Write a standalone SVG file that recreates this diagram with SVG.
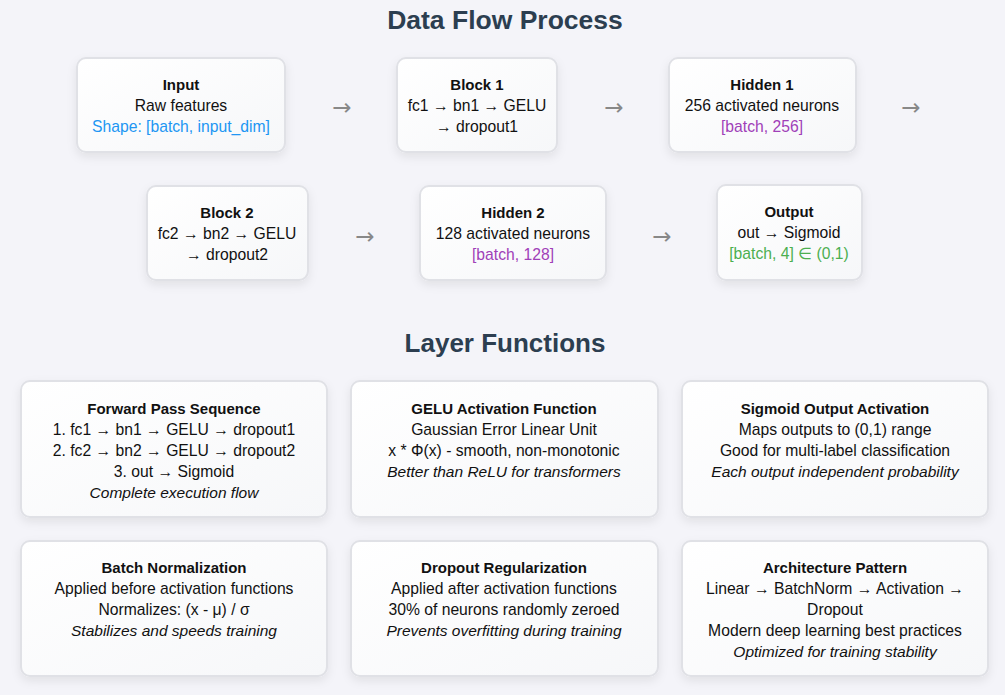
<svg xmlns="http://www.w3.org/2000/svg" width="1005" height="695" viewBox="0 0 1005 695">
<defs>
<linearGradient id="g" x1="0" y1="0" x2="1" y2="1">
<stop offset="0" stop-color="#ffffff"/>
<stop offset="1" stop-color="#f6f7f9"/>
</linearGradient>
<filter id="sh" x="-20%" y="-20%" width="140%" height="150%">
<feDropShadow dx="0" dy="4" stdDeviation="5" flood-color="#000" flood-opacity="0.08"/>
</filter>
</defs>
<style>
text{font-family:"Liberation Sans",Arial,sans-serif;font-size:15.7px;fill:#111;text-anchor:middle}
.h{font-size:26.5px;font-weight:bold;fill:#2c3e50}
.b{font-weight:bold;font-size:15px}
.i{font-style:italic;font-size:15.5px}
.box{fill:url(#g);stroke:#e0e1e6;stroke-width:2;filter:url(#sh)}
.arr{font-family:"DejaVu Sans",sans-serif;font-size:23px;fill:#888}
.blue{fill:#2196f3}
.pur{fill:#a040b8}
.grn{fill:#4caf50}
</style>
<rect width="1005" height="695" fill="#f4f4f9"/>
<text class="h" x="505" y="29">Data Flow Process</text>
<text class="h" x="505" y="352" style="font-size:26px">Layer Functions</text>

<g id="input"><rect class="box" x="77" y="58" width="208" height="94" rx="9"/>
<text class="b" x="181" y="90">Input</text><text x="181" y="111">Raw features</text><text class="blue" x="181" y="132">Shape: [batch, input_dim]</text></g>
<g id="block1"><rect class="box" x="397" y="58" width="160" height="94" rx="9"/>
<text class="b" x="477" y="90">Block 1</text><text x="477" y="111">fc1 → bn1 → GELU</text><text x="477" y="132">→ dropout1</text></g>
<g id="hidden1"><rect class="box" x="669" y="58" width="187" height="94" rx="9"/>
<text class="b" x="762" y="90">Hidden 1</text><text x="762" y="111">256 activated neurons</text><text class="pur" x="762" y="132">[batch, 256]</text></g>
<g id="block2"><rect class="box" x="147" y="186" width="161" height="94" rx="9"/>
<text class="b" x="227" y="218">Block 2</text><text x="227" y="239">fc2 → bn2 → GELU</text><text x="227" y="260">→ dropout2</text></g>
<g id="hidden2"><rect class="box" x="420" y="186" width="186" height="94" rx="9"/>
<text class="b" x="513" y="218">Hidden 2</text><text x="513" y="239">128 activated neurons</text><text class="pur" x="513" y="260">[batch, 128]</text></g>
<g id="output"><rect class="box" x="717" y="185" width="145" height="95" rx="9"/>
<text class="b" x="789" y="217">Output</text><text x="789" y="238">out → Sigmoid</text><text class="grn" x="789" y="259">[batch, 4] ∈ (0,1)</text></g>

<g id="connectors">
<text class="arr" x="342" y="115">→</text>
<text class="arr" x="614" y="115">→</text>
<text class="arr" x="911" y="115">→</text>
<text class="arr" x="365" y="244">→</text>
<text class="arr" x="662" y="244">→</text>
</g>

<g id="forward"><rect class="box" x="21" y="381" width="306" height="136" rx="9"/>
<text class="b" x="174" y="414">Forward Pass Sequence</text><text x="174" y="435">1. fc1 → bn1 → GELU → dropout1</text><text x="174" y="456">2. fc2 → bn2 → GELU → dropout2</text><text x="174" y="477">3. out → Sigmoid</text><text class="i" x="174" y="498">Complete execution flow</text></g>
<g id="gelu"><rect class="box" x="351" y="381" width="307" height="136" rx="9"/>
<text class="b" x="504" y="414">GELU Activation Function</text><text x="504" y="435">Gaussian Error Linear Unit</text><text x="504" y="456">x * Φ(x) - smooth, non-monotonic</text><text class="i" x="504" y="477">Better than ReLU for transformers</text></g>
<g id="sigmoid"><rect class="box" x="682" y="381" width="306" height="136" rx="9"/>
<text class="b" x="835" y="414">Sigmoid Output Activation</text><text x="835" y="435">Maps outputs to (0,1) range</text><text x="835" y="456">Good for multi-label classification</text><text class="i" x="835" y="477">Each output independent probability</text></g>
<g id="batchnorm"><rect class="box" x="21" y="541" width="306" height="135" rx="9"/>
<text class="b" x="174" y="573">Batch Normalization</text><text x="174" y="594">Applied before activation functions</text><text x="174" y="615">Normalizes: (x - μ) / σ</text><text class="i" x="174" y="636">Stabilizes and speeds training</text></g>
<g id="dropout"><rect class="box" x="351" y="541" width="307" height="135" rx="9"/>
<text class="b" x="504" y="573">Dropout Regularization</text><text x="504" y="594">Applied after activation functions</text><text x="504" y="615">30% of neurons randomly zeroed</text><text class="i" x="504" y="636">Prevents overfitting during training</text></g>
<g id="arch"><rect class="box" x="682" y="541" width="306" height="135" rx="9"/>
<text class="b" x="835" y="573">Architecture Pattern</text><text x="835" y="594">Linear → BatchNorm → Activation →</text><text x="835" y="615">Dropout</text><text x="835" y="636">Modern deep learning best practices</text><text class="i" x="835" y="657">Optimized for training stability</text></g>
</svg>
